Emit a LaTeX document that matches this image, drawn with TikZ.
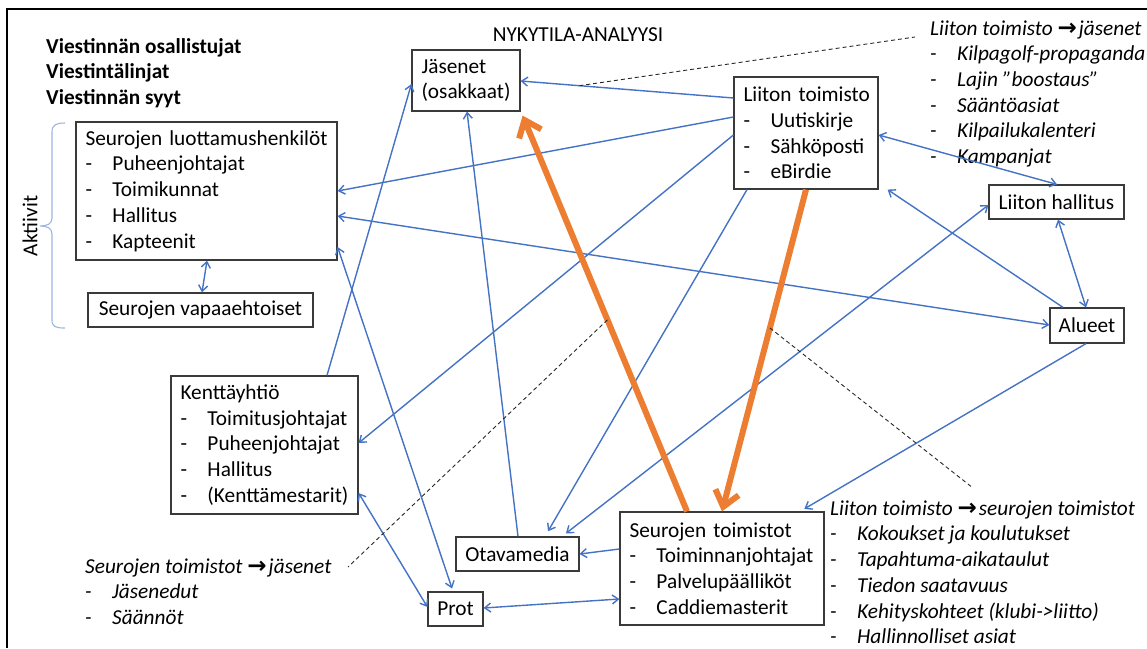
\documentclass[tikz,border=0pt]{standalone}
\usepackage{fontspec}
\setmainfont{Carlito}
\newfontfamily\arrowfont{DejaVu Sans}
\usetikzlibrary{arrows.meta}
\definecolor{linkblue}{HTML}{4472C4}
\definecolor{floworange}{HTML}{ED7D31}
\definecolor{bracecol}{HTML}{9DB6E0}
\definecolor{boxline}{HTML}{3A3A3A}
\newcommand{\diagfont}{\fontsize{21.3}{25.7}\selectfont}
\newcommand{\dashitem}[1]{\makebox[27pt][l]{-}#1}
\newcommand{\toarrow}{{\arrowfont\bfseries\upshape\fontsize{23}{25.7}\selectfont →}\hspace{2pt}}

\begin{document}
\begin{tikzpicture}[x=1pt,y=-1pt,
  every node/.style={font=\diagfont},
  box/.style={draw=boxline, line width=1.2pt, inner xsep=9.5pt, inner ysep=0pt, align=left,
    execute at begin node={\hyphenpenalty=10000}},
  onebox/.style={draw=boxline, line width=1.2pt, inner sep=0pt},
  freetext/.style={anchor=north west, inner sep=0pt, align=left},
  link/.style={draw=linkblue, line width=1.4pt},
  >={Straight Barb[length=6pt,width=9pt]},
  flowarrow/.style={draw=floworange, line width=6pt, -{Straight Barb[length=15pt,width=24pt]}},
  note/.style={draw=black!85, line width=0.9pt, dash pattern=on 4pt off 3pt}]

\useasboundingbox (0,0) rectangle (1147,648);

% outer frame
\draw[line width=2.5pt] (7,648) -- (7,9) -- (1147,9);

% headings
\node[anchor=base, inner sep=0pt] (title) at (578,41) {NYKYTILA-ANALYYSI};
\node[freetext, font=\diagfont\bfseries] (heads) at (46,35)
  {\strut Viestinnän osallistujat\\Viestintälinjat\\Viestinnän syyt};

% brace grouping the active people
\draw[bracecol, line width=1.1pt]
  (65,123) .. controls (56,123) and (52,125) .. (52,132) -- (52,218)
  .. controls (52,224) and (47,226) .. (40,226)
  .. controls (47,226) and (52,228) .. (52,234) -- (52,320)
  .. controls (52,327) and (56,328) .. (65,328);
\node[rotate=90] (akt) at (30,226) {Aktiivit};

% actors
\node[box, text width=242pt, minimum height=138pt] (luott) at (206.5,191)
  {Seurojen~luottamushenkilöt\\\dashitem{Puheenjohtajat}\\\dashitem{Toimikunnat}\\\dashitem{Hallitus}\\\dashitem{Kapteenit}};
\node[onebox, minimum width=225pt, minimum height=34pt] (vapaa) at (200.5,310)
  {Seurojen vapaaehtoiset};
\node[box, text width=89pt, minimum height=61pt] (jas) at (466,80.5)
  {Jäsenet\\(osakkaat)};
\node[box, text width=125pt, minimum height=112pt] (liitto) at (806,133)
  {Liiton~toimisto\\\dashitem{Uutiskirje}\\\dashitem{Sähköposti}\\\dashitem{eBirdie}};
\node[onebox, minimum width=135pt, minimum height=34pt] (hallitus) at (1056.5,202)
  {Liiton hallitus};
\node[onebox, minimum width=74pt, minimum height=35pt] (alueet) at (1087,325.5)
  {Alueet};
\node[box, text width=168pt, minimum height=138pt] (kentta) at (264.5,445)
  {Kenttäyhtiö\\\dashitem{Toimitusjohtajat}\\\dashitem{Puheenjohtajat}\\\dashitem{Hallitus}\\\dashitem{(Kenttämestarit)}};
\node[onebox, minimum width=123pt, minimum height=34pt] (otava) at (517.5,554)
  {Otavamedia};
\node[box, text width=185pt, minimum height=113pt] (seurat) at (722,568.5)
  {Seurojen~toimistot\\\dashitem{Toiminnanjohtajat}\\\dashitem{Palvelupäälliköt}\\\dashitem{Caddiemasterit}};
\node[onebox, minimum width=55pt, minimum height=34pt] (prot) at (455.5,609)
  {Prot};

% message contents
\node[freetext, font=\diagfont\itshape] (msgA) at (930,17)
  {\strut Liiton toimisto \toarrow jäsenet\\\dashitem{Kilpagolf-propaganda}\\\dashitem{Lajin ”boostaus”}\\\dashitem{Sääntöasiat}\\\dashitem{Kilpailukalenteri}\\\dashitem{Kampanjat}};
\node[freetext, font=\diagfont\itshape] (msgC) at (830,497)
  {\strut Liiton toimisto \toarrow seurojen toimistot\\\dashitem{Kokoukset ja koulutukset}\\\dashitem{Tapahtuma-aikataulut}\\\dashitem{Tiedon saatavuus}\\\dashitem{Kehityskohteet (klubi->liitto)}\\\dashitem{Hallinnolliset asiat}};
\node[freetext, font=\diagfont\itshape] (msgB) at (85,555)
  {\strut Seurojen toimistot \toarrow jäsenet\\\dashitem{Jäsenedut}\\\dashitem{Säännöt}};

% communication links
\draw[link,->] (liitto.west |- 0,98) -- coordinate[pos=0.724] (callA) (jas.east |- 0,81);
\draw[link,->] (liitto.west |- 0,117) -- (luott.east |- 0,191);
\draw[link,->] (liitto.west |- 0,135) -- (kentta.east |- 0,443);
\draw[link,->,shorten >=6pt] (liitto.south -| 747,0) -- (otava.north -| 545,0);
\draw[link,<->] (liitto.east |- 0,135) -- (hallitus.north -| 1057,0);
\draw[link,->] (alueet.north -| 1063,0) -- ([xshift=9pt]liitto.south east);
\draw[link,<->] (hallitus.south -| 1058,0) -- (alueet.north -| 1086,0);
\draw[link,<->,shorten >=5pt] (hallitus.west |- 0,205) -- (otava.north -| 562,0);
\draw[link,<->] (luott.east |- 0,216) -- (alueet.west |- 0,325);
\draw[link,->,shorten >=5pt] (alueet.south -| 1086,0) -- (seurat.north -| 800,0);
\draw[link,->] (kentta.north -| 327,0) -- (jas.west |- 0,84);
\draw[link,->] (otava.north -| 518,0) -- (jas.south -| 467,0);
\draw[link,->] (seurat.west |- 0,549) -- (otava.east |- 0,554);
\draw[link,<->] (prot.east |- 0,608) -- (seurat.west |- 0,599);
\draw[link,<->] (kentta.east |- 0,493) -- (prot.west |- 0,607);
\draw[link,<->,shorten >=3pt] (luott.east |- 0,247) -- (prot.north -| 453,0);
\draw[link,<->] (luott.south -| 207,0) -- (vapaa.north -| 202,0);

% main flows
\draw[flowarrow] (seurat.north -| 687,0) -- coordinate[pos=0.484] (callB) ([xshift=2pt,yshift=-4pt]jas.south east);
\draw[flowarrow] (liitto.south -| 806,0) -- coordinate[pos=0.43] (callC) (seurat.north -| 722,0);

% callouts to the message contents
\coordinate (endA) at (915,37);
\coordinate (endB) at (348,567);
\coordinate (endC) at (973,488);
\draw[note] (callA) -- (endA);
\draw[note] (callB) -- (endB);
\draw[note] (callC) -- (endC);
\end{tikzpicture}
\end{document}
